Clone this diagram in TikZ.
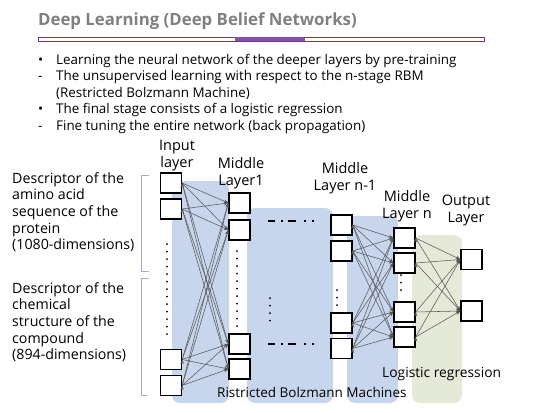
\documentclass[tikz,border=0pt]{standalone}
\usepackage{fontspec}
\setmainfont{Open Sans}
\usetikzlibrary{arrows.meta}

\definecolor{rbmblue}{RGB}{200,214,237}
\definecolor{logitgreen}{RGB}{229,234,216}
\definecolor{titlegray}{RGB}{128,128,128}
\definecolor{barpurple}{RGB}{112,48,160}
\definecolor{bracketgray}{RGB}{165,172,195}

\tikzset{
  unit/.style={draw=black, line width=1.3pt, fill=white, minimum width=21pt, minimum height=20pt, inner sep=0pt},
  conn/.style={draw=black!65, line width=0.55pt, -{Stealth[length=4.5pt,width=3.5pt]}},
  layername/.style={anchor=north, align=center, inner sep=0pt, font=\fontsize{14.5}{17}\selectfont},
  desc/.style={anchor=north west, align=left, inner sep=0pt, font=\fontsize{14.2}{16.7}\selectfont},
  region/.style={rounded corners=8pt},
  gap/.style={line width=2pt, line cap=round, dash pattern=on 0pt off 7.5pt}
}

\begin{document}
\begin{tikzpicture}[x=1pt,y=-1pt]
      \useasboundingbox (0,0) rectangle (550,413);

      % Title and bar
      \node[anchor=base west, inner sep=0pt, text=titlegray, font=\bfseries\fontsize{16.8}{20}\selectfont] (title) at (38,25) {Deep Learning (Deep Belief Networks)};
      \draw[barpurple, line width=1pt] (38,37) rectangle (484,41);
      \fill[barpurple!85] (235,37) rectangle (305,41);

      % Bullet points
      \node[anchor=north west, align=left, inner sep=0pt, font=\fontsize{13.4}{16.5}\selectfont] (points) at (38,54)
      {\makebox[18pt][l]{\textbullet}Learning the neural network of the deeper layers by pre-training\\
       \makebox[18pt][l]{-}The unsupervised learning with respect to the n-stage RBM\\
       \hspace*{18pt}(Restricted Bolzmann Machine)\\
       \makebox[18pt][l]{\textbullet}The final stage consists of a logistic regression\\
       \makebox[18pt][l]{-}Fine tuning the entire network (back propagation)};

      % Shaded regions
      \fill[rbmblue, region] (172,181) rectangle (229,403);
      \fill[rbmblue, region] (247,208) rectangle (333,403);
      \fill[rbmblue, region] (347,216) rectangle (398,403);
      \fill[logitgreen, region] (412,235) rectangle (462,403);

      % Descriptors and brackets
      \node[desc] (protein) at (12,172) {Descriptor of the\\amino acid\\sequence of the\\protein\\(1080-dimensions)};
      \node[desc] (compound) at (12,282) {Descriptor of the\\chemical\\structure of the\\compound\\(894-dimensions)};
      \draw[bracketgray, line width=0.8pt] (149,175) -- (141,175) -- (141,271) -- (149,271);
      \draw[bracketgray, line width=0.8pt] (149,278) -- (141,278) -- (141,395) -- (147,395);

      % Layer names
      \node[layername] (inname) at (177,140) {Input\\layer};
      \node[layername] (onename) at (241,157) {Middle\\Layer1};
      \node[layername] (mname) at (345,162) {Middle\\Layer n-1};
      \node[layername] (nname) at (407,190) {Middle\\Layer n};
      \node[layername] (outname) at (466,195) {Output\\Layer};

      % Units
      \node[unit] (in1) at (171,183) {};
      \node[unit] (in2) at (171,209) {};
      \node[unit] (in3) at (171,359.5) {};
      \node[unit] (in4) at (171,385.5) {};

      \node[unit] (lone1) at (239.5,203) {};
      \node[unit] (lone2) at (239.5,230) {};
      \node[unit] (lone3) at (239.5,344) {};
      \node[unit] (lone4) at (239.5,369) {};

      \node[unit] (lm1) at (341.5,225) {};
      \node[unit] (lm2) at (341.5,251) {};
      \node[unit] (lm3) at (341.5,323) {};
      \node[unit] (lm4) at (341.5,348.5) {};

      \node[unit] (ln1) at (404.5,238) {};
      \node[unit] (ln2) at (404.5,263) {};
      \node[unit] (ln3) at (404.5,312) {};
      \node[unit] (ln4) at (404.5,337) {};

      \node[unit] (out1) at (471.5,259.5) {};
      \node[unit] (out2) at (471.5,311) {};

      % Omitted units
      \draw[gap] (167,244) -- (167,340);
      \draw[gap] (237,251) -- (237,328);
      \draw[gap] (270,298) -- (270,326);
      \draw[gap] (337,290) -- (337,307);
      \draw[gap] (401,275) -- (401,295);
      \draw[line width=2.2pt, dash pattern=on 7pt off 6pt on 2pt off 5pt on 8pt off 8pt on 2pt off 6pt on 2pt] (268,221) -- (314,221);
      \draw[line width=2.2pt, dash pattern=on 7pt off 6pt on 2pt off 5pt on 8pt off 8pt on 2pt off 6pt on 2pt] (268,344) -- (314,344);

      % Connections
      \draw[conn] (in1.east) edge (lone1.west) edge (lone2.west) edge (lone3.west) edge (lone4.west);
      \draw[conn] (in2.east) edge (lone1.west) edge (lone2.west) edge (lone3.west) edge (lone4.west);
      \draw[conn] (in3.east) edge (lone1.west) edge (lone2.west) edge (lone3.west) edge (lone4.west);
      \draw[conn] (in4.east) edge (lone1.west) edge (lone2.west) edge (lone3.west) edge (lone4.west);

      \draw[conn] (lm1.east) edge (ln1.west) edge (ln2.west) edge (ln3.west) edge (ln4.west);
      \draw[conn] (lm2.east) edge (ln1.west) edge (ln2.west) edge (ln3.west) edge (ln4.west);
      \draw[conn] (lm3.east) edge (ln1.west) edge (ln2.west) edge (ln3.west) edge (ln4.west);
      \draw[conn] (lm4.east) edge (ln1.west) edge (ln2.west) edge (ln3.west) edge (ln4.west);

      \draw[conn] (ln1.east) edge (out1.west) edge (out2.west);
      \draw[conn] (ln2.east) edge (out1.west) edge (out2.west);
      \draw[conn] (ln3.east) edge (out1.west) edge (out2.west);
      \draw[conn] (ln4.east) edge (out1.west) edge (out2.west);

      % Region names
      \node[anchor=base west, inner sep=0pt, font=\fontsize{13.5}{16}\selectfont] (rbmname) at (217,397) {Ristricted Bolzmann Machines};
      \node[anchor=base west, inner sep=0pt, font=\fontsize{13.8}{16}\selectfont] (logitname) at (382,377) {Logistic regression};
    \end{tikzpicture}
\end{document}
